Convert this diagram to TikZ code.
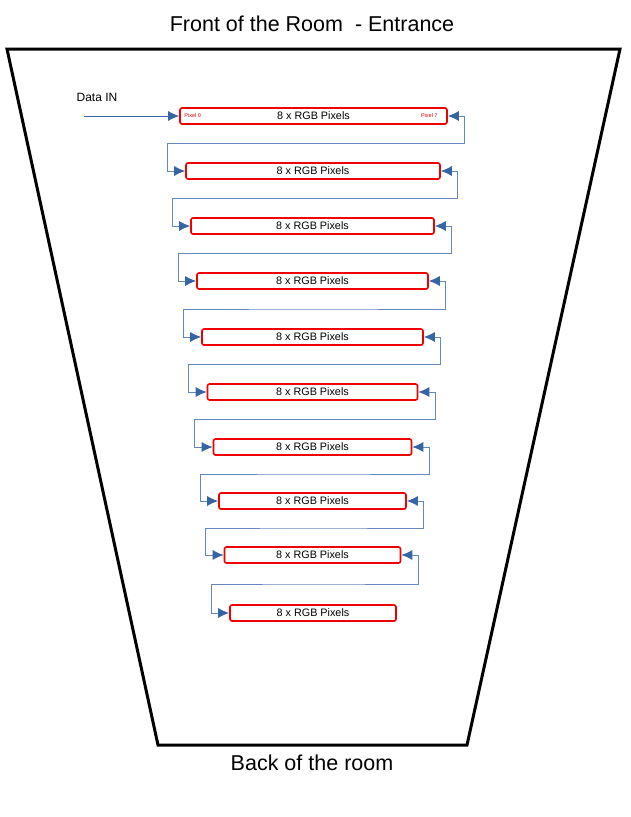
\documentclass[tikz,border=0pt]{standalone}
\usepackage{fontspec}
\setmainfont{Liberation Sans}
\usepackage{tikz}
\usetikzlibrary{arrows.meta,calc,positioning}
\definecolor{wireline}{RGB}{100,135,190}
\definecolor{wiretip}{RGB}{52,101,164}
\definecolor{stripred}{RGB}{240,0,0}

\begin{document}
\begin{tikzpicture}[x=1pt,y=-1pt,
  strip/.style={draw=stripred,line width=1.6pt,rounded corners=2pt,fill=white,minimum height=16pt,inner sep=0pt,font=\fontsize{10.8}{12}\selectfont},
  pixlbl/.style={text=stripred,inner sep=0pt,font=\fontsize{5.5}{6}\selectfont},
  wire/.style={draw=wireline,line width=1pt,{Latex[length=11pt,width=10pt,color=wiretip]}-{Latex[length=11pt,width=10pt,color=wiretip]}},
  wirein/.style={draw=wiretip,line width=1pt,-{Latex[length=11pt,width=10pt,color=wiretip]}},
  title/.style={font=\fontsize{21.5}{24}\selectfont}]
\useasboundingbox (0,0) rectangle (631,817);
\draw[line width=3pt] (7,49) -- (620,49) -- (467,745) -- (158,745) -- cycle;
\node[title] (front) at (312,24) {Front of the Room~~- Entrance};
\node[title] (back) at (312,763) {Back of the room};
\node[font=\fontsize{12}{14}\selectfont] (datain) at (97,97) {Data IN};
\coordinate (din) at (84,116);
\node[strip,minimum width=267pt] (s1) at (313.5,116) {8 x RGB Pixels};
\node[strip,minimum width=254pt] (s2) at (313,171) {8 x RGB Pixels};
\node[strip,minimum width=243pt] (s3) at (312.5,226) {8 x RGB Pixels};
\node[strip,minimum width=231pt] (s4) at (312.5,281) {8 x RGB Pixels};
\node[strip,minimum width=221pt] (s5) at (312.5,337) {8 x RGB Pixels};
\node[strip,minimum width=210pt] (s6) at (312.5,392) {8 x RGB Pixels};
\node[strip,minimum width=198pt] (s7) at (312.5,447) {8 x RGB Pixels};
\node[strip,minimum width=187pt] (s8) at (312.5,501) {8 x RGB Pixels};
\node[strip,minimum width=176pt] (s9) at (312.5,555) {8 x RGB Pixels};
\node[strip,minimum width=166pt] (s10) at (313,613) {8 x RGB Pixels};
\node[pixlbl,right=5pt of s1.west,anchor=west] (p0) {Pixel 0};
\node[pixlbl,left=10pt of s1.east,anchor=east] (p7) {Pixel 7};
\draw[wirein] (din) -- (s1.west);
\draw[wire] (s1.east) -- ++(17,0) |- ($(s1.south)!.5!(s2.north)$) -| ([xshift=-18pt]s2.west) -- (s2.west);
\draw[wire] (s2.east) -- ++(17,0) |- ($(s2.south)!.5!(s3.north)$) -| ([xshift=-18pt]s3.west) -- (s3.west);
\draw[wire] (s3.east) -- ++(17,0) |- ($(s3.south)!.5!(s4.north)$) -| ([xshift=-18pt]s4.west) -- (s4.west);
\draw[wire] (s4.east) -- ++(17,0) |- ($(s4.south)!.5!(s5.north)$) -| ([xshift=-18pt]s5.west) -- (s5.west);
\draw[wire] (s5.east) -- ++(17,0) |- ($(s5.south)!.5!(s6.north)$) -| ([xshift=-18pt]s6.west) -- (s6.west);
\draw[wire] (s6.east) -- ++(17,0) |- ($(s6.south)!.5!(s7.north)$) -| ([xshift=-18pt]s7.west) -- (s7.west);
\draw[wire] (s7.east) -- ++(17,0) |- ($(s7.south)!.5!(s8.north)$) -| ([xshift=-18pt]s8.west) -- (s8.west);
\draw[wire] (s8.east) -- ++(17,0) |- ($(s8.south)!.5!(s9.north)$) -| ([xshift=-18pt]s9.west) -- (s9.west);
\draw[wire] (s9.east) -- ++(17,0) |- ($(s9.south)!.5!(s10.north)$) -| ([xshift=-18pt]s10.west) -- (s10.west);
\end{tikzpicture}
\end{document}
